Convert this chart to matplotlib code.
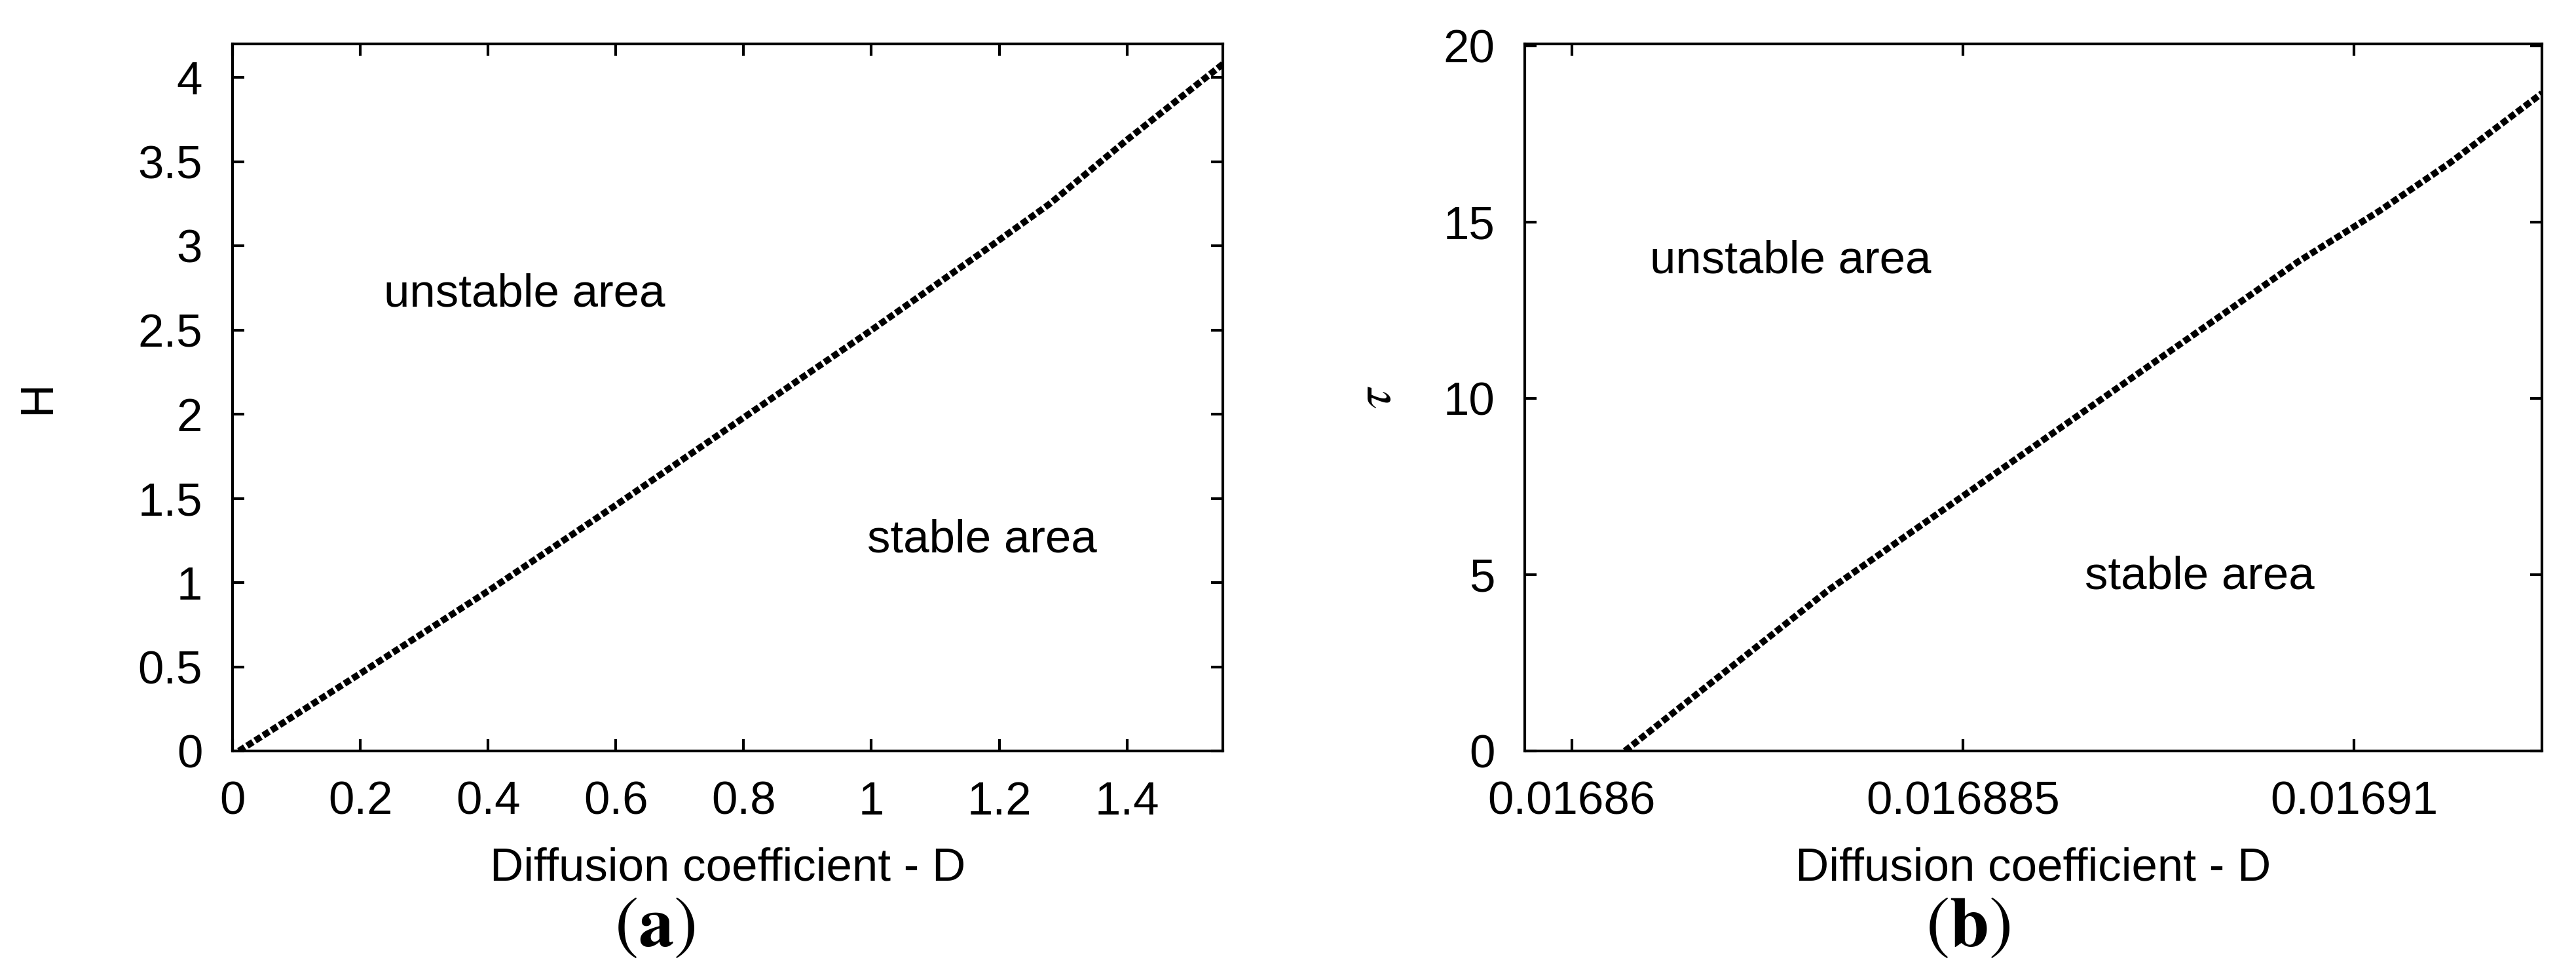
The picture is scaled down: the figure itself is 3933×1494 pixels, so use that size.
import matplotlib
matplotlib.use("Agg")
import matplotlib.pyplot as plt
from matplotlib.ticker import FixedLocator, FixedFormatter

plt.rcParams['font.family'] = ['Liberation Sans', 'DejaVu Sans']
plt.rcParams['mathtext.fontset'] = 'stix'

# ---- data ----
D_a = [0.01, 0.2, 0.4, 0.6, 0.8, 1.0, 1.176, 1.279, 1.4, 1.55]
H_a = [0.0, 0.46, 0.95, 1.46, 1.98, 2.5, 2.97, 3.25, 3.63, 4.08]

D_b = [0.0168634, 0.0168764, 0.0169064, 0.0169116, 0.0169161, 0.016922]
tau_b = [0.0, 4.56, 13.87, 15.31, 16.67, 18.65]

xticks_a = [0, 0.2, 0.4, 0.6, 0.8, 1.0, 1.2, 1.4]
xticklabels_a = ["0", "0.2", "0.4", "0.6", "0.8", "1", "1.2", "1.4"]
yticks_a = [0, 0.5, 1, 1.5, 2, 2.5, 3, 3.5, 4]
yticklabels_a = ["0", "0.5", "1", "1.5", "2", "2.5", "3", "3.5", "4"]

xticks_b = [0.01686, 0.016885, 0.01691]
xticklabels_b = ["0.01686", "0.016885", "0.01691"]
yticks_b = [0, 5, 10, 15, 20]
yticklabels_b = ["0", "5", "10", "15", "20"]

panel_letters = ["a", "b"]

FS = 17
W, H = 3933, 1494
DPI = 300
fig = plt.figure(figsize=(W / DPI, H / DPI), dpi=DPI)

bottom = 1 - 1146 / H
height = (1146 - 67) / H
ax1 = fig.add_axes([355 / W, bottom, (1867 - 355) / W, height])
ax2 = fig.add_axes([2328 / W, bottom, (3881 - 2328) / W, height])

line_kw = dict(color='black', lw=2.4, linestyle=(0, (1.05, 0.42)),
               dash_capstyle='butt', solid_capstyle='butt')

ax1.plot(D_a, H_a, **line_kw)
ax2.plot(D_b, tau_b, **line_kw)

ax1.set_xlim(0, 1.55)
ax1.set_ylim(0, 4.2)
ax2.set_xlim(0.016857, 0.016922)
ax2.set_ylim(0, 20.05)

for ax, xt, xl, yt, yl in [(ax1, xticks_a, xticklabels_a, yticks_a, yticklabels_a),
                           (ax2, xticks_b, xticklabels_b, yticks_b, yticklabels_b)]:
    ax.xaxis.set_major_locator(FixedLocator(xt))
    ax.xaxis.set_major_formatter(FixedFormatter(xl))
    ax.yaxis.set_major_locator(FixedLocator(yt))
    ax.yaxis.set_major_formatter(FixedFormatter(yl))
    ax.tick_params(direction='in', length=4.3, width=1.0, pad=11,
                   labelsize=FS, top=True, right=True)
    for s in ax.spines.values():
        s.set_linewidth(1.0)
    ax.set_xlabel("Diffusion coefficient - D", fontsize=FS, va='center')
    ax.xaxis.set_label_coords(0.5, -0.166)

ax1.set_ylabel("H", fontsize=FS, va='center', ha='center')
ax1.yaxis.set_label_coords((58 - 355) / 1512, 0.5)
ax2.set_ylabel(r"$\tau$", fontsize=FS + 2, va='center', ha='center')
ax2.yaxis.set_label_coords((2102 - 2328) / 1553, 0.5)

ax1.text(0.237, 2.64, "unstable area", fontsize=FS, ha='left', va='baseline')
ax1.text(0.993, 1.18, "stable area", fontsize=FS, ha='left', va='baseline')
ax2.text(0.016865, 13.55, "unstable area", fontsize=FS, ha='left', va='baseline')
ax2.text(0.0168928, 4.6, "stable area", fontsize=FS, ha='left', va='baseline')

# panel labels
base_y = 1 - 1443 / H
for letter, xc in zip(panel_letters, [1000, 3005]):
    fig.text(xc / W, base_y, r"$(\mathbf{" + letter + r"})$", fontsize=26,
             ha='center', va='baseline')

fig.savefig("out.png", dpi=DPI)
